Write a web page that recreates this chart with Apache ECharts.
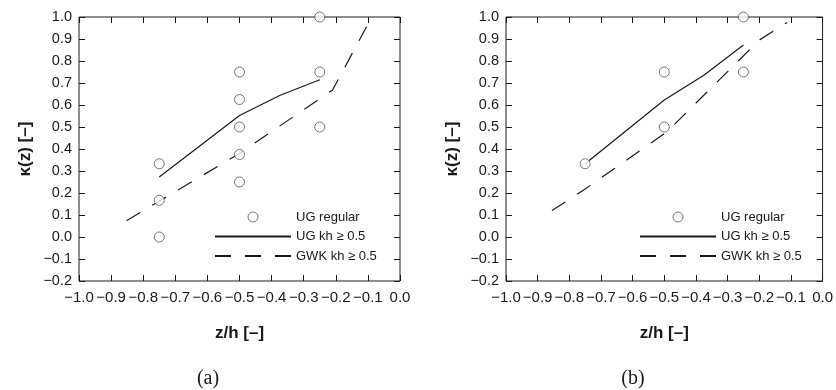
<!DOCTYPE html>
<html>
<head>
<meta charset="utf-8">
<script src="https://cdn.jsdelivr.net/npm/echarts@6/dist/echarts.min.js"></script>
<style>
  html, body { margin: 0; padding: 0; background: #fff; }
  #chart { width: 836px; height: 390px; }
</style>
</head>
<body>
<div id="chart"></div>
<script>
// Panel (a): UG regular wave data points, UG fit (kh >= 0.5), GWK fit (kh >= 0.5)
const regularA = [[-0.75, 0.333], [-0.75, 0.167], [-0.75, 0.0],
                  [-0.5, 0.75], [-0.5, 0.625], [-0.5, 0.5], [-0.5, 0.375], [-0.5, 0.25],
                  [-0.25, 1.0], [-0.25, 0.75], [-0.25, 0.5]];
const ugFitA = [[-0.75, 0.273], [-0.5, 0.552], [-0.375, 0.643], [-0.25, 0.715]];
const gwkFitA = [[-0.852, 0.074], [-0.75, 0.163], [-0.5, 0.38], [-0.21, 0.668], [-0.088, 1.0]];

// Panel (b)
const regularB = [[-0.75, 0.333], [-0.5, 0.75], [-0.5, 0.5], [-0.25, 1.0], [-0.25, 0.75]];
const ugFitB = [[-0.75, 0.333], [-0.5, 0.623], [-0.375, 0.735], [-0.25, 0.873]];
const gwkFitB = [[-0.855, 0.12], [-0.75, 0.218], [-0.49, 0.48], [-0.2, 0.895], [-0.112, 0.975]];

const seriesNames = ['UG regular', 'UG kh \u2265 0.5', 'GWK kh \u2265 0.5'];
const panelLabels = ['(a)', '(b)'];
const xTitle = 'z/h [\u2013]';
const yTitle = '\u03ba(z) [\u2013]';

const INK = '#1a1a1a';
const FONT = '"Liberation Sans", Arial, Helvetica, sans-serif';

const fmt = v => {
  const s = (Math.abs(v) < 1e-9 ? 0 : v).toFixed(1);
  return s.replace('-', '\u2212');
};

function xAxisDef(grid, pos, main) {
  return {
    type: 'value', gridIndex: grid, position: pos,
    min: -1.0, max: 0.0, interval: 0.1,
    axisLine: { show: false, onZero: false },
    axisTick: { show: true, inside: true, length: 6, lineStyle: { color: INK, width: 1 } },
    axisLabel: { show: main, formatter: fmt, color: INK, fontFamily: FONT, fontSize: 15, margin: 9 },
    splitLine: { show: false },
    name: main ? xTitle : '', nameLocation: 'middle', nameGap: 44,
    nameTextStyle: { color: INK, fontFamily: FONT, fontSize: 17, fontWeight: 'bold' }
  };
}
function yAxisDef(grid, pos, main) {
  return {
    type: 'value', gridIndex: grid, position: pos,
    min: -0.2, max: 1.0, interval: 0.1,
    axisLine: { show: false, onZero: false },
    axisTick: { show: true, inside: true, length: 6, lineStyle: { color: INK, width: 1 } },
    axisLabel: { show: main, formatter: fmt, color: INK, fontFamily: FONT, fontSize: 14.5, margin: 7 },
    splitLine: { show: false },
    name: main ? yTitle : '', nameLocation: 'middle', nameGap: 45, nameRotate: 90,
    nameTextStyle: { color: INK, fontFamily: FONT, fontSize: 17, fontWeight: 'bold' }
  };
}

function panelSeries(p, pts, ug, gwk) {
  const ax = p * 2;
  return [
    {
      name: seriesNames[0], type: 'scatter', xAxisIndex: ax, yAxisIndex: ax,
      data: pts, symbol: 'circle', symbolSize: 10,
      itemStyle: { color: '#ffffff', borderColor: '#555', borderWidth: 1 }, z: 3
    },
    {
      name: seriesNames[1], type: 'line', xAxisIndex: ax, yAxisIndex: ax,
      data: ug, symbol: 'none', showSymbol: false,
      itemStyle: { color: INK },
      lineStyle: { color: INK, width: 1.2, type: 'solid' }, z: 2
    },
    {
      name: seriesNames[2], type: 'line', xAxisIndex: ax, yAxisIndex: ax,
      data: gwk, symbol: 'none', showSymbol: false,
      itemStyle: { color: INK },
      lineStyle: { color: INK, width: 1.2, type: [16, 14] }, z: 2
    }
  ];
}

function legendDef(left) {
  return {
    orient: 'vertical', left: left, top: 205,
    data: [
      { name: seriesNames[0], itemStyle: { color: '#ffffff', borderColor: '#555', borderWidth: 1 } },
      { name: seriesNames[1], itemStyle: { opacity: 0 } },
      { name: seriesNames[2], itemStyle: { opacity: 0 } }
    ],
    selectedMode: false,
    itemWidth: 76, itemHeight: 10, itemGap: 5.5,
    textStyle: { color: INK, fontFamily: FONT, fontSize: 13, lineHeight: 14 }
  };
}

const chart = echarts.init(document.getElementById('chart'), null, { renderer: 'canvas' });
chart.setOption({
  animation: false,
  backgroundColor: '#ffffff',
  grid: [
    { left: 79, top: 17, width: 321, height: 264, show: true, borderColor: INK, borderWidth: 1, backgroundColor: 'transparent' },
    { left: 506, top: 17, width: 320, height: 264, show: true, borderColor: INK, borderWidth: 1, backgroundColor: 'transparent' }
  ],
  xAxis: [xAxisDef(0, 'bottom', true), xAxisDef(0, 'top', false), xAxisDef(1, 'bottom', true), xAxisDef(1, 'top', false)],
  yAxis: [yAxisDef(0, 'left', true), yAxisDef(0, 'right', false), yAxisDef(1, 'left', true), yAxisDef(1, 'right', false)],
  legend: [legendDef(209), legendDef(634)],
  series: [
    ...panelSeries(0, regularA, ugFitA, gwkFitA),
    ...panelSeries(1, regularB, ugFitB, gwkFitB)
  ],
  graphic: [
    { type: 'text', x: 208, y: 379, style: { text: panelLabels[0], align: 'center', verticalAlign: 'middle', font: '20px "Liberation Serif", "DejaVu Serif", serif', fill: INK } },
    { type: 'text', x: 633, y: 379, style: { text: panelLabels[1], align: 'center', verticalAlign: 'middle', font: '20px "Liberation Serif", "DejaVu Serif", serif', fill: INK } }
  ]
});
</script>
</body>
</html>
